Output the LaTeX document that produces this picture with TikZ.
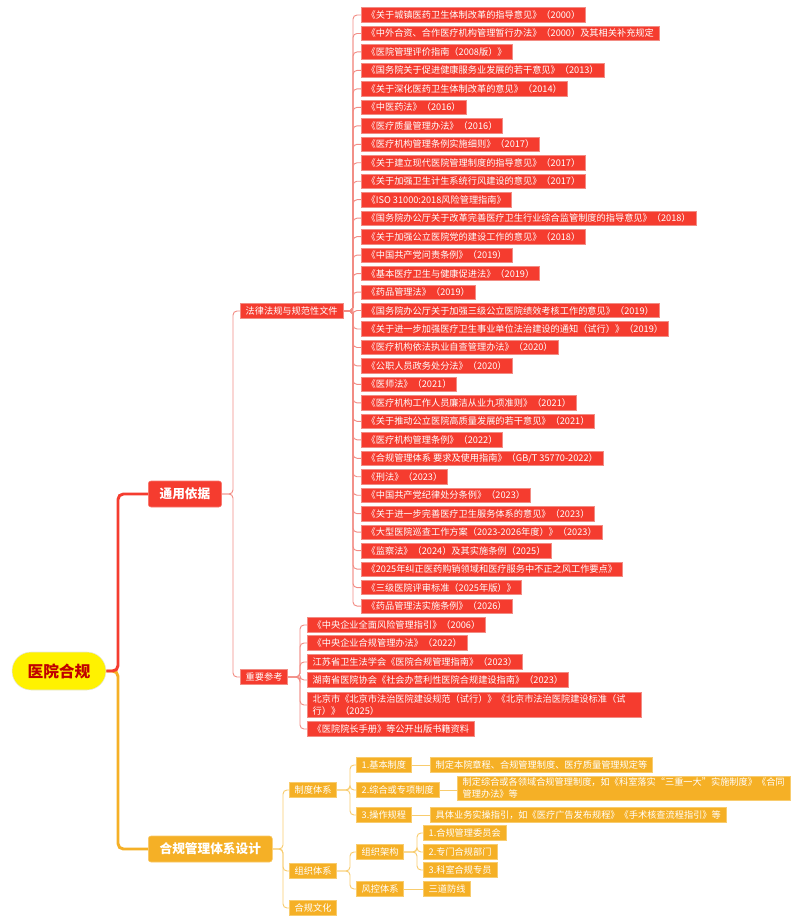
\documentclass[tikz,border=0pt]{standalone}
\usepackage{fontspec}
\setmainfont{Noto Sans CJK SC}
\usetikzlibrary{shapes.misc}
\definecolor{cred}{RGB}{245,60,47}
\definecolor{credl}{RGB}{242,140,132}
\definecolor{corg}{RGB}{245,176,38}
\definecolor{corgl}{RGB}{248,204,110}
\definecolor{croot}{RGB}{192,0,0}
\begin{document}
\begin{tikzpicture}[x=0.75pt,y=-0.75pt,
  rootnode/.style={rounded rectangle, fill=yellow, draw=black!10, text=croot,
    font=\fontsize{11.8}{13}\selectfont\bfseries, minimum width=70.5pt, minimum height=28.5pt, inner sep=0pt},
  lvone/.style={rectangle, rounded corners=2pt, text=white, anchor=west,
    font=\fontsize{9.5}{11}\selectfont\bfseries, minimum height=19.5pt, inner xsep=8.5pt, inner ysep=0pt},
  rone/.style={lvone, fill=cred, draw=cred!70!white},
  oone/.style={lvone, fill=corg, draw=corg!70!white},
  leaf/.style={rectangle, text=white, anchor=west, align=left,
    font=\fontsize{6.9}{9}\selectfont, minimum height=10.8pt, inner xsep=4pt, inner ysep=1.4pt, line width=0.5pt},
  rleaf/.style={leaf, fill=cred, draw=credl},
  oleaf/.style={leaf, fill=corg, draw=corgl},
  rthick/.style={draw=cred, line width=2.2pt, rounded corners=4pt},
  othick/.style={draw=corg, line width=2.2pt, rounded corners=4pt},
  rlink/.style={draw=credl, line width=0.7pt, rounded corners=3pt},
  olink/.style={draw=corgl, line width=0.7pt, rounded corners=3pt}]
\useasboundingbox (0,0) rectangle (800,922);

% root and level one
\node[rootnode] (root) at (59,671) {医院合规};
\node[rone] (A) at (148,494) {通用依据};
\node[oone] (B) at (148,849) {合规管理体系设计};
\draw[othick] (root.east) -- (118,671) |- (B.west);
\draw[rthick] (root.east) -- (118,671) |- (A.west);

% red level two
\node[rleaf] (A1) at (240,311) {法律法规与规范性文件};
\node[rleaf] (A2) at (240,677) {重要参考};
\foreach \n in {A1,A2} \draw[rlink] (A.east) -- (233,494) |- (\n.west);

% laws
\foreach \t [count=\i] in {
《关于城镇医药卫生体制改革的指导意见》（2000）,
《中外合资、合作医疗机构管理暂行办法》（2000）及其相关补充规定,
《医院管理评价指南（2008版）》,
《国务院关于促进健康服务业发展的若干意见》（2013）,
《关于深化医药卫生体制改革的意见》（2014）,
《中医药法》（2016）,
《医疗质量管理办法》（2016）,
《医疗机构管理条例实施细则》（2017）,
《关于建立现代医院管理制度的指导意见》（2017）,
《关于加强卫生计生系统行风建设的意见》（2017）,
《ISO 31000:2018风险管理指南》,
《国务院办公厅关于改革完善医疗卫生行业综合监管制度的指导意见》（2018）,
《关于加强公立医院党的建设工作的意见》（2018）,
《中国共产党问责条例》（2019）,
《基本医疗卫生与健康促进法》（2019）,
《药品管理法》（2019）,
《国务院办公厅关于加强三级公立医院绩效考核工作的意见》（2019）,
《关于进一步加强医疗卫生事业单位法治建设的通知（试行）》（2019）,
《医疗机构依法执业自查管理办法》（2020）,
《公职人员政务处分法》（2020）,
《医师法》（2021）,
《医疗机构工作人员廉洁从业九项准则》（2021）,
《关于推动公立医院高质量发展的若干意见》（2021）,
《医疗机构管理条例》（2022）,
《合规管理体系 要求及使用指南》（GB/T 35770-2022）,
《刑法》（2023）,
《中国共产党纪律处分条例》（2023）,
《关于进一步完善医疗卫生服务体系的意见》（2023）,
《大型医院巡查工作方案（2023-2026年度）》（2023）,
《监察法》（2024）及其实施条例（2025）,
《2025年纠正医药购销领域和医疗服务中不正之风工作要点》,
《三级医院评审标准（2025年版）》,
《药品管理法实施条例》（2026）} {
  \node[rleaf] (L\i) at (361,{15+(\i-1)*18.47}) {\t};
  \draw[rlink] (A1.east) -- (353,311) |- (L\i.west);
}

% references
\node[rleaf] (R1) at (307,625) {《中央企业全面风险管理指引》（2006）};
\node[rleaf] (R2) at (307,643) {《中央企业合规管理办法》（2022）};
\node[rleaf] (R3) at (307,662) {江苏省卫生法学会《医院合规管理指南》（2023）};
\node[rleaf] (R4) at (307,680) {湖南省医院协会《社会办营利性医院合规建设指南》（2023）};
\node[rleaf, text width=242.5pt] (R5) at (307,705) {北京市《北京市法治医院建设规范（试行）》《北京市法治医院建设标准（试\\行）》（2025）};
\node[rleaf] (R6) at (307,729) {《医院院长手册》等公开出版书籍资料};
\foreach \n in {R1,R2,R3,R4,R5,R6} \draw[rlink] (A2.east) -- (300,677) |- (\n.west);

% orange branch
\node[oleaf] (B1) at (289,790) {制度体系};
\node[oleaf] (B2) at (289,871) {组织体系};
\node[oleaf] (B3) at (289,908) {合规文化};
\foreach \n in {B1,B2,B3} \draw[olink] (B.east) -- (283,849) |- (\n.west);

\node[oleaf] (C1) at (356,765) {1.基本制度};
\node[oleaf] (C2) at (356,790) {2.综合或专项制度};
\node[oleaf] (C3) at (356,815) {3.操作规程};
\foreach \n in {C1,C2,C3} \draw[olink] (B1.east) -- (350,790) |- (\n.west);

\node[oleaf] (D1) at (430,765) {制定本院章程、合规管理制度、医疗质量管理规定等};
\node[oleaf] (D2) at (457,788) {制定综合或各领域合规管理制度，如《科室落实“三重一大”实施制度》《合同\\管理办法》等};
\node[oleaf] (D3) at (430,815) {具体业务实操指引，如《医疗广告发布规程》《手术核查流程指引》等};
\draw[olink] (C1.east) -- (D1.west);
\draw[olink] (C2.east) -- (D2.west |- C2.east);
\draw[olink] (C3.east) -- (D3.west);

\node[oleaf] (E1) at (356,852) {组织架构};
\node[oleaf] (E2) at (356,889) {风控体系};
\foreach \n in {E1,E2} \draw[olink] (B2.east) -- (350,871) |- (\n.west);

\node[oleaf] (F1) at (423,833) {1.合规管理委员会};
\node[oleaf] (F2) at (423,852) {2.专门合规部门};
\node[oleaf] (F3) at (423,870) {3.科室合规专员};
\foreach \n in {F1,F2,F3} \draw[olink] (E1.east) -- (417,852) |- (\n.west);

\node[oleaf] (G1) at (423,889) {三道防线};
\draw[olink] (E2.east) -- (G1.west);
\end{tikzpicture}
\end{document}
